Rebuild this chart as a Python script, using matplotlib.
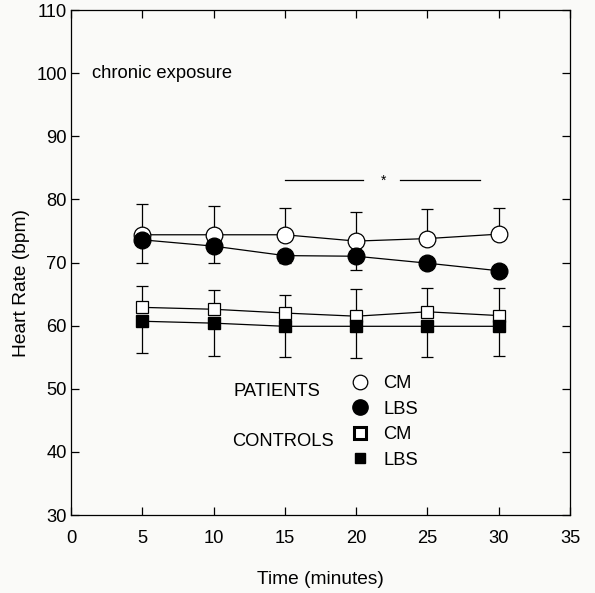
import matplotlib
matplotlib.use('Agg')
import matplotlib.pyplot as plt
from matplotlib.lines import Line2D

plt.rcParams['font.family'] = ['Liberation Sans', 'DejaVu Sans']

# ─── data ───
minutes = [5, 10, 15, 20, 25, 30]

patients_cm = [74.4, 74.4, 74.4, 73.4, 73.8, 74.5]
patients_cm_err = [4.8, 4.6, 4.2, 4.6, 4.7, 4.1]        # drawn upwards
patients_lbs = [73.6, 72.6, 71.1, 71.0, 69.9, 68.7]
patients_lbs_err = [3.6, 2.6, 1.2, 2.2, 0.8, 0.8]       # drawn downwards

controls_cm = [62.9, 62.6, 62.0, 61.5, 62.2, 61.6]
controls_cm_err = [3.4, 3.0, 2.8, 4.3, 3.7, 4.3]        # upwards
controls_lbs = [60.7, 60.4, 59.9, 59.9, 59.9, 59.9]
controls_lbs_err = [5.1, 5.2, 4.8, 5.1, 4.9, 4.7]       # downwards

# significance bar: two segments and a star between them
sig_left = [15.0, 20.5]
sig_right = [23.1, 28.7]
sig_y = 83.0
sig_star_x = 21.9

xticks = [0, 5, 10, 15, 20, 25, 30, 35]
yticks = [30, 40, 50, 60, 70, 80, 90, 100, 110]

FS = 13.2

fig = plt.figure(figsize=(5.95, 5.93), dpi=100)
fig.patch.set_facecolor('#fafaf8')
ax = fig.add_axes([0.1193, 0.1315, 0.8387, 0.8515])
ax.set_facecolor('#fafaf8')

zero = [0] * len(minutes)
err_kw = dict(fmt='none', ecolor='black', elinewidth=0.9, capsize=4.5, capthick=0.9, zorder=2)
ax.errorbar(minutes, patients_cm, yerr=[zero, patients_cm_err], **err_kw)
ax.errorbar(minutes, patients_lbs, yerr=[patients_lbs_err, zero], **err_kw)
ax.errorbar(minutes, controls_cm, yerr=[zero, controls_cm_err], **err_kw)
ax.errorbar(minutes, controls_lbs, yerr=[controls_lbs_err, zero], **err_kw)

ax.plot(minutes, patients_cm, color='black', lw=0.9, marker='o', ms=12,
        mfc='white', mec='black', mew=0.9, zorder=3)
ax.plot(minutes, patients_lbs, color='black', lw=0.9, marker='o', ms=12,
        mfc='black', mec='black', zorder=4)
ax.plot(minutes, controls_cm, color='black', lw=0.9, marker='s', ms=8,
        mfc='white', mec='black', mew=0.9, zorder=3)
ax.plot(minutes, controls_lbs, color='black', lw=0.9, marker='s', ms=8,
        mfc='black', mec='black', zorder=4)

ax.plot(sig_left, [sig_y, sig_y], color='black', lw=0.9)
ax.plot(sig_right, [sig_y, sig_y], color='black', lw=0.9)
ax.text(sig_star_x, sig_y, '*', ha='center', va='center', fontsize=10)

ax.text(1.5, 100.0, 'chronic exposure', ha='left', va='center', fontsize=FS)

# legend: markers only, group labels as plain text
handles = [
    Line2D([], [], ls='none', marker='o', ms=10.5, mfc='white', mec='black', mew=0.9),
    Line2D([], [], ls='none', marker='o', ms=11, mfc='black', mec='black'),
    Line2D([], [], ls='none', marker='s', ms=8, mfc='white', mec='black', mew=2.2),
    Line2D([], [], ls='none', marker='s', ms=6.5, mfc='black', mec='black'),
]
ax.legend(handles, ['CM', 'LBS', 'CM', 'LBS'], loc='upper left',
          bbox_to_anchor=(351 / 595, (593 - 375) / 593), bbox_transform=fig.transFigure,
          frameon=False, fontsize=FS, handlelength=1.0, handletextpad=0.75,
          labelspacing=0.47, borderpad=0, borderaxespad=0)
ax.text(11.4, 49.6, 'PATIENTS', ha='left', va='center', fontsize=FS)
ax.text(11.3, 41.6, 'CONTROLS', ha='left', va='center', fontsize=FS)

ax.set_xlim(0, 35)
ax.set_ylim(30, 110)
ax.set_xticks(xticks)
ax.set_yticks(yticks)
ax.tick_params(direction='in', top=True, right=True, length=6, width=0.9,
               labelsize=FS)
ax.tick_params(axis='x', pad=11)
ax.tick_params(axis='y', pad=3)
for s in ax.spines.values():
    s.set_linewidth(0.9)

ax.set_xlabel('Time (minutes)', fontsize=FS + 0.6, labelpad=17)
ax.set_ylabel('Heart Rate (bpm)', fontsize=FS + 0.6)
ax.yaxis.set_label_coords(-0.082, (66.8 - 30) / 80)

fig.savefig('out.png', dpi=100, facecolor=fig.get_facecolor())
